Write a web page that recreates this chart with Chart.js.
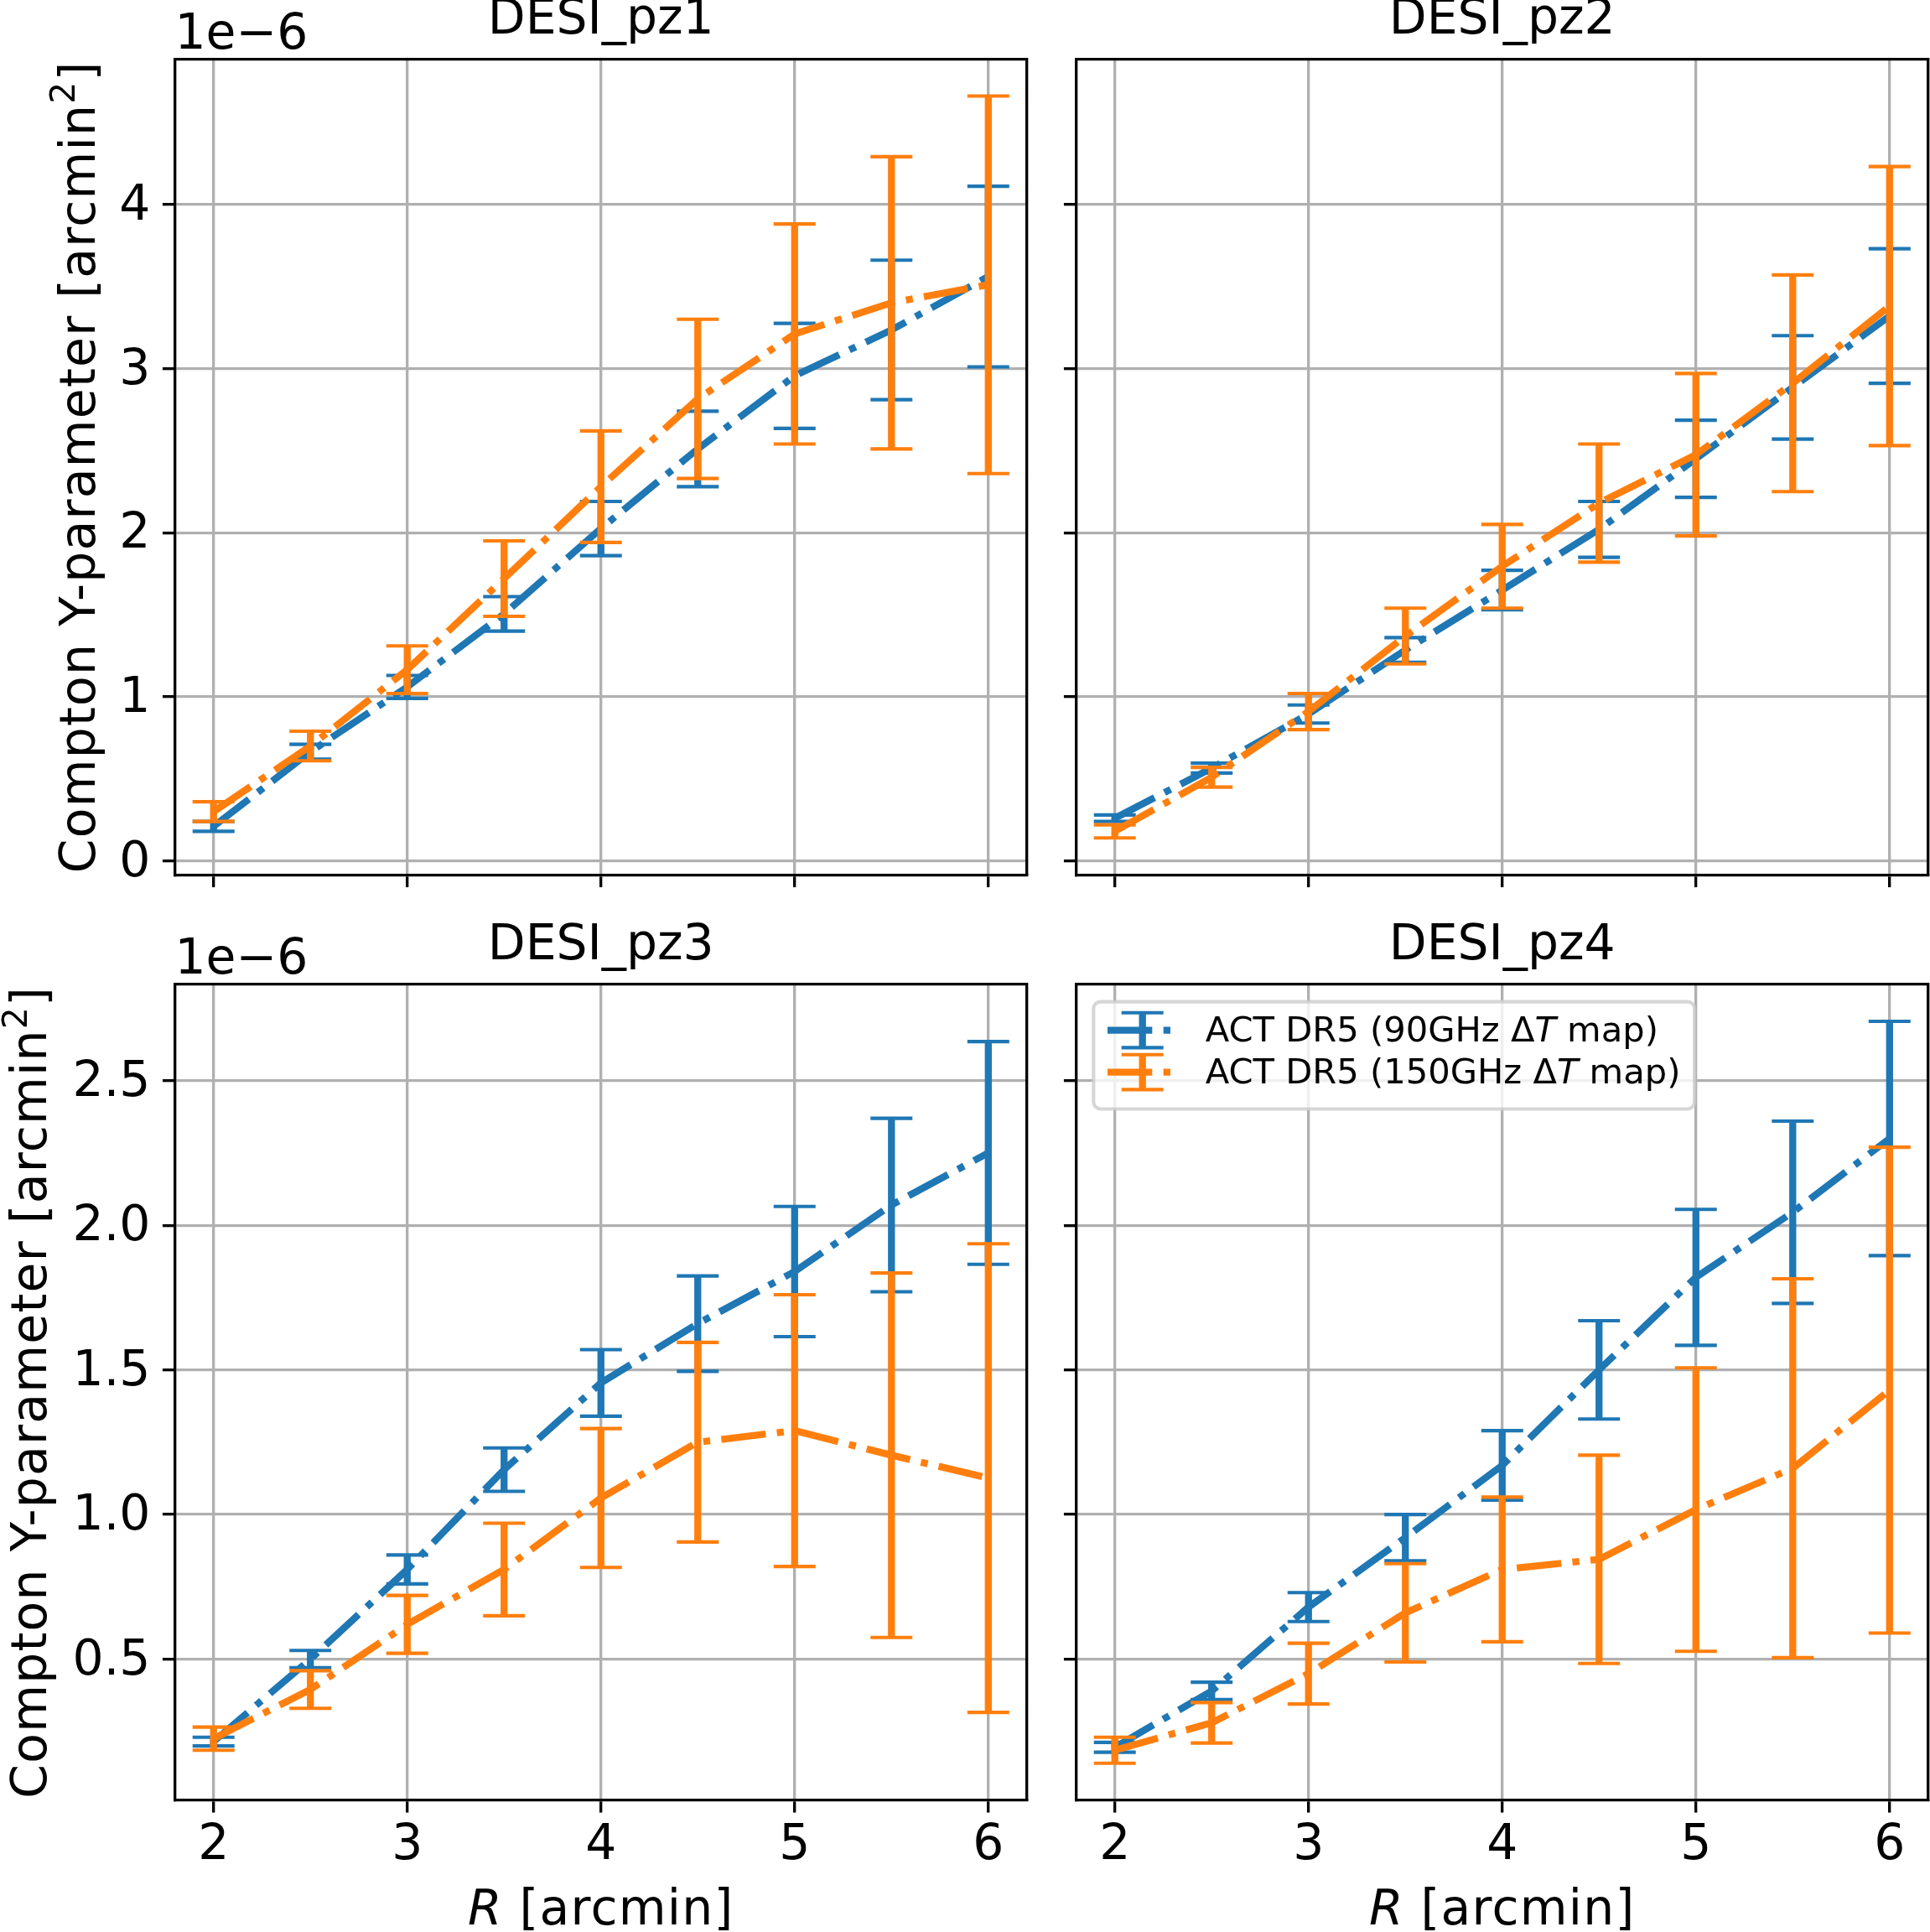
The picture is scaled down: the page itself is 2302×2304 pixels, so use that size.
<!DOCTYPE html>
<html><head><meta charset="utf-8">
<script src="https://cdn.jsdelivr.net/npm/chart.js@4.4.0/dist/chart.umd.min.js"></script>
<style>
html,body{margin:0;padding:0;background:#fff;}
#wrap{position:relative;width:2302px;height:2304px;background:#fff;overflow:hidden;}
canvas{position:absolute;}
</style></head><body><div id="wrap">
<canvas id="c1" width="1254" height="1100" style="left:0;top:0"></canvas>
<canvas id="c2" width="1048" height="1100" style="left:1254px;top:0"></canvas>
<canvas id="c3" width="1254" height="1204" style="left:0;top:1100px"></canvas>
<canvas id="c4" width="1048" height="1204" style="left:1254px;top:1100px"></canvas>
</div>
<script>
// ---------------- data (units of 1e-6 arcmin^2) ----------------
const R = [2, 2.5, 3, 3.5, 4, 4.5, 5, 5.5, 6];
const panelTitles = ['DESI_pz1', 'DESI_pz2', 'DESI_pz3', 'DESI_pz4'];
const seriesNames = ['ACT DR5 (90GHz ΔT map)', 'ACT DR5 (150GHz ΔT map)'];

const y90_pz1  = [0.21, 0.665, 1.06, 1.505, 2.025, 2.51, 2.955, 3.235, 3.56];
const e90_pz1  = [0.03, 0.045, 0.07, 0.105, 0.165, 0.23, 0.32, 0.425, 0.55];
const y150_pz1 = [0.30, 0.70, 1.165, 1.72, 2.28, 2.815, 3.21, 3.40, 3.51];
const e150_pz1 = [0.06, 0.09, 0.145, 0.23, 0.34, 0.485, 0.67, 0.89, 1.15];

const y90_pz2  = [0.26, 0.565, 0.895, 1.285, 1.65, 2.02, 2.45, 2.885, 3.32];
const e90_pz2  = [0.02, 0.03, 0.055, 0.075, 0.12, 0.17, 0.235, 0.315, 0.41];
const y150_pz2 = [0.18, 0.51, 0.91, 1.37, 1.795, 2.18, 2.475, 2.91, 3.38];
const e150_pz2 = [0.04, 0.06, 0.11, 0.17, 0.255, 0.36, 0.495, 0.66, 0.85];

const y90_pz3  = [0.215, 0.50, 0.81, 1.155, 1.455, 1.66, 1.84, 2.07, 2.25];
const e90_pz3  = [0.015, 0.03, 0.05, 0.075, 0.115, 0.165, 0.225, 0.30, 0.385];
const y150_pz3 = [0.225, 0.395, 0.62, 0.81, 1.057, 1.25, 1.29, 1.205, 1.126];
const e150_pz3 = [0.04, 0.065, 0.10, 0.16, 0.24, 0.345, 0.47, 0.63, 0.81];

const y90_pz4  = [0.195, 0.39, 0.68, 0.92, 1.17, 1.50, 1.82, 2.045, 2.30];
const e90_pz4  = [0.017, 0.03, 0.05, 0.08, 0.12, 0.17, 0.235, 0.315, 0.405];
const y150_pz4 = [0.185, 0.28, 0.45, 0.66, 0.81, 0.845, 1.017, 1.16, 1.43];
const e150_pz4 = [0.045, 0.07, 0.105, 0.17, 0.25, 0.36, 0.49, 0.655, 0.84];

const xTicks = [2, 3, 4, 5, 6];
const xTickLabels = ['2', '3', '4', '5', '6'];
const yTicksTop = [0, 1, 2, 3, 4];
const yTickLabelsTop = ['0', '1', '2', '3', '4'];
const yTicksBottom = [0.5, 1.0, 1.5, 2.0, 2.5];
const yTickLabelsBottom = ['0.5', '1.0', '1.5', '2.0', '2.5'];
const yOffsetLabel = '1e\u22126';
const xLabelParts = [['R', true], [' [arcmin]', false]];
const yLabelParts = [['Compton Y-parameter [arcmin', false], ['2', 'sup'], [']', false]];

// ---------------- style ----------------
const PX = 300 / 72;
const FS = 14 * PX, LEG_FS = 10 * PX;
const GW = 0.8 * PX, TL = 3.5 * PX;
const LW = 2 * PX, CAP_R = 6 * PX, CAP_W = 1.0 * PX;
const DASH = [6.4, 1.6, 1.0, 1.6].map(v => v * LW);
const BLUE = '#1f77b4', ORANGE = '#ff7f0e', GRID = '#b0b0b0';
const FAMILY = '"DejaVu Sans"';
const MATH_SPACING = '1.25px';
Chart.defaults.font.family = FAMILY;
Chart.defaults.color = '#000';

const panels = [
  {id: 'c1', title: panelTitles[0], v: [y90_pz1, y150_pz1], e: [e90_pz1, e150_pz1], row: 0, col: 0},
  {id: 'c2', title: panelTitles[1], v: [y90_pz2, y150_pz2], e: [e90_pz2, e150_pz2], row: 0, col: 1},
  {id: 'c3', title: panelTitles[2], v: [y90_pz3, y150_pz3], e: [e90_pz3, e150_pz3], row: 1, col: 0},
  {id: 'c4', title: panelTitles[3], v: [y90_pz4, y150_pz4], e: [e90_pz4, e150_pz4], row: 1, col: 1, legend: true},
];

// layout geometry per canvas
const geo = {
  c1: {padTop: 0,   padRight: 29, yW: 208.5, xH: 56.5, yLabelX: 112.5},
  c2: {padTop: 0,   padRight: 2,  yW: 29.5,  xH: 56.5},
  c3: {padTop: 3.5, padRight: 29, yW: 208.5, xH: 157,  yLabelX: 55},
  c4: {padTop: 3.5, padRight: 2,  yW: 29.5,  xH: 157},
};

// autoscale like matplotlib (5% margins), shared per row
function rowRange(row) {
  let lo = Infinity, hi = -Infinity;
  panels.filter(p => p.row === row).forEach(p => {
    p.v.forEach((vals, s) => vals.forEach((v, i) => {
      lo = Math.min(lo, v - p.e[s][i]); hi = Math.max(hi, v + p.e[s][i]);
    }));
  });
  const m = 0.05 * (hi - lo);
  return [lo - m, hi + m];
}
const yRanges = [rowRange(0), rowRange(1)];
const xSpan = R[R.length - 1] - R[0];
const xRange = [R[0] - 0.05 * xSpan, R[R.length - 1] + 0.05 * xSpan];

function segs(label) {
  const m = label.match(/^(.*\u0394)(T)(.*)$/);
  return m ? [[m[1], false], [m[2], true], [m[3], false]] : [[label, false]];
}

// draw mixed-style text starting at (x, 0) in current transform, centered
function drawParts(ctx, parts, size) {
  const fontFor = st => (st === true ? 'italic ' : '') + (st === 'sup' ? 0.7 * size : size) + 'px ' + FAMILY;
  let total = 0;
  const ws = parts.map(([t, st]) => { ctx.font = fontFor(st); const w = ctx.measureText(t).width; total += w; return w; });
  let x = -total / 2;
  parts.forEach(([t, st], i) => {
    ctx.font = fontFor(st);
    ctx.fillText(t, x, st === 'sup' ? -0.4 * size : 0);
    x += ws[i];
  });
}

function annotPlugin(p) {
  const g = geo[p.id];
  return {
    id: 'annot',
    afterDatasetsDraw(chart) {
      if (!p.legend) return;
      const ctx = chart.ctx, ca = chart.chartArea, em = LEG_FS;
      const colors = [BLUE, ORANGE];
      ctx.save();
      let maxW = 0;
      seriesNames.forEach(name => {
        let w = 0;
        segs(name).forEach(([t, it]) => { ctx.font = (it ? 'italic ' : '') + em + 'px ' + FAMILY; w += ctx.measureText(t).width; });
        maxW = Math.max(maxW, w);
      });
      const x0 = ca.left + 0.5 * em, y0 = ca.top + 0.5 * em;
      const bp = 0.4 * em, hl = 2.0 * em, htp = 0.8 * em;
      const xText = x0 + bp + hl + htp;
      const w = xText + maxW + bp - x0, h = 3.07 * em;
      ctx.globalAlpha = 0.8;
      ctx.beginPath();
      ctx.roundRect(x0, y0, w, h, 0.2 * em);
      ctx.fillStyle = '#ffffff'; ctx.fill();
      ctx.lineWidth = 1.0 * PX; ctx.strokeStyle = '#cccccc'; ctx.stroke();
      ctx.globalAlpha = 1;
      seriesNames.forEach((name, k) => {
        const cy = y0 + 0.815 * em + k * 1.2 * em;
        const hx0 = x0 + bp, hc = hx0 + hl / 2;
        ctx.strokeStyle = colors[k];
        ctx.lineCap = 'butt';
        ctx.setLineDash([]);
        ctx.lineWidth = LW;
        ctx.beginPath(); ctx.moveTo(hc, cy - 0.5 * em); ctx.lineTo(hc, cy + 0.5 * em); ctx.stroke();
        ctx.lineWidth = CAP_W;
        [-1, 1].forEach(sg => { ctx.beginPath(); ctx.moveTo(hc - CAP_R, cy + sg * 0.5 * em); ctx.lineTo(hc + CAP_R, cy + sg * 0.5 * em); ctx.stroke(); });
        ctx.lineWidth = LW;
        ctx.setLineDash(DASH);
        ctx.beginPath(); ctx.moveTo(hx0, cy); ctx.lineTo(hx0 + hl, cy); ctx.stroke();
        ctx.setLineDash([]);
        ctx.fillStyle = '#000'; ctx.textAlign = 'left'; ctx.textBaseline = 'alphabetic';
        let tx = xText;
        const by = y0 + 1.13 * em + k * 1.2 * em;
        segs(name).forEach(([t, it]) => {
          ctx.font = (it ? 'italic ' : '') + em + 'px ' + FAMILY;
          ctx.fillText(t, tx, by); tx += ctx.measureText(t).width;
        });
      });
      ctx.restore();
    },
    afterDraw(chart) {
      const ctx = chart.ctx, ca = chart.chartArea;
      ctx.save();
      ctx.fillStyle = '#000'; ctx.textBaseline = 'alphabetic'; ctx.textAlign = 'left';
      if (p.col === 0) {
        ctx.font = FS + 'px ' + FAMILY;
        ctx.fillText(yOffsetLabel, ca.left, ca.top - 3 * PX);
        // y-axis label (rotated)
        ctx.save();
        ctx.translate(g.yLabelX, (ca.top + ca.bottom) / 2);
        ctx.rotate(-Math.PI / 2);
        ctx.letterSpacing = MATH_SPACING;
        drawParts(ctx, yLabelParts, FS);
        ctx.restore();
      }
      if (p.row === 1) {
        ctx.save();
        ctx.translate((ca.left + ca.right) / 2, ca.bottom + 148);
        ctx.letterSpacing = MATH_SPACING;
        drawParts(ctx, xLabelParts, FS);
        ctx.restore();
      }
      ctx.restore();
    }
  };
}

function makeChart(p) {
  const g = geo[p.id];
  const isLeft = p.col === 0, isBottom = p.row === 1;
  const [ymin, ymax] = yRanges[p.row];
  const yT = isBottom ? yTicksBottom : yTicksTop;
  const yL = isBottom ? yTickLabelsBottom : yTickLabelsTop;
  const colors = [BLUE, ORANGE];
  const datasets = [];
  let order = 10;
  [0, 1].forEach(s => {
    const v = p.v[s], e = p.e[s], c = colors[s];
    datasets.push({
      label: seriesNames[s] + ' errors',
      data: R.flatMap((x, i) => [{x, y: v[i] - e[i]}, {x, y: v[i] + e[i]}, {x, y: null}]),
      borderColor: c, backgroundColor: c, borderWidth: LW, borderDash: [], spanGaps: false,
      pointStyle: 'line', pointRadius: CAP_R, pointHoverRadius: CAP_R,
      pointBorderWidth: CAP_W, pointHoverBorderWidth: CAP_W, pointBorderColor: c, pointBackgroundColor: c,
      fill: false, tension: 0, order: order--
    });
    datasets.push({
      label: seriesNames[s],
      data: R.map((x, i) => ({x, y: v[i]})),
      borderColor: c, backgroundColor: c, borderWidth: LW, borderDash: DASH,
      borderJoinStyle: 'round', borderCapStyle: 'butt', pointRadius: 0, pointHoverRadius: 0,
      fill: false, tension: 0, order: order--
    });
  });

  const gridOpts = {display: true, color: GRID, lineWidth: GW, drawTicks: true, tickLength: TL, tickColor: '#000', tickWidth: GW};
  const borderOpts = {display: true, color: '#000', width: GW};

  return new Chart(document.getElementById(p.id), {
    type: 'line',
    data: {datasets},
    plugins: [annotPlugin(p)],
    options: {
      responsive: false, maintainAspectRatio: false, animation: false, devicePixelRatio: 1,
      events: [],
      layout: {autoPadding: false, padding: {left: 0, right: g.padRight, top: g.padTop, bottom: 0}},
      plugins: {
        legend: {display: false},
        tooltip: {enabled: false},
        title: {
          display: true, text: p.title, fullSize: false, align: 'center', color: '#000',
          font: {size: FS, weight: 'normal', lineHeight: 0.8, family: FAMILY},
          padding: {top: 1.8, bottom: 21.8}
        }
      },
      scales: {
        x: {
          type: 'linear', position: 'bottom', min: xRange[0], max: xRange[1],
          afterBuildTicks: s => { s.ticks = xTicks.map(v => ({value: v})); },
          afterFit: s => { s.height = g.xH; },
          grid: gridOpts, border: borderOpts,
          ticks: {display: isBottom, color: '#000', padding: 5.2, maxRotation: 0, autoSkip: false,
                  font: {size: FS, lineHeight: 1.2}, callback: (val, i) => xTickLabels[i]}
        },
        y: {
          type: 'linear', position: 'left', min: ymin, max: ymax,
          afterBuildTicks: s => { s.ticks = yT.map(v => ({value: v})); },
          afterFit: s => { s.width = g.yW; },
          grid: gridOpts, border: borderOpts,
          ticks: {display: isLeft, color: '#000', padding: TL, autoSkip: false, labelOffset: 3,
                  font: {size: FS, lineHeight: 1.2}, callback: (val, i) => yL[i]},
          title: {display: false}
        },
        x2: {
          type: 'linear', position: 'top', display: true,
          afterFit: s => { s.height = 0; },
          grid: {display: false, drawTicks: false}, ticks: {display: false}, border: borderOpts
        },
        y2: {
          type: 'linear', position: 'right', display: true,
          afterFit: s => { s.width = 0; },
          grid: {display: false, drawTicks: false}, ticks: {display: false}, border: borderOpts
        }
      }
    }
  });
}

panels.forEach(makeChart);
</script>
</body></html>
